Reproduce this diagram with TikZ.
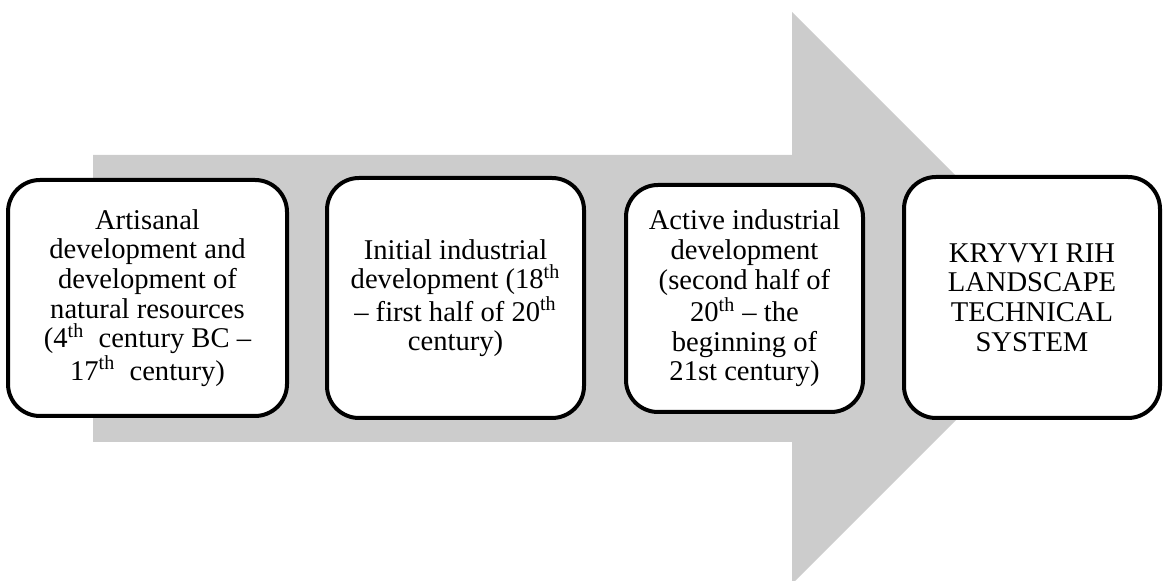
\documentclass[tikz,border=0pt]{standalone}
\usepackage{fontspec}
\setmainfont{Liberation Serif}
\begin{document}
\begin{tikzpicture}[x=0.5pt, y=-0.5pt, line join=round, font=\fontsize{14.3}{14.8}\selectfont]
	\tikzset{stagebox/.style={draw, line width=2pt, fill=white, rounded corners=16pt, align=center, inner sep=2pt}}
	\useasboundingbox (0,0) rectangle (1163,581);
	%Big arrow
	\fill [gray!40] (93,155)--(792,155)--(792,12)--(1078,298)--(792,584)--(792,442)--(93,442)--cycle;
	%Stages
	\node[stagebox, minimum width=139.5pt, minimum height=118pt] (artisanal) at (147.5,298) {Artisanal\\ development and\\ development of\\ natural resources\\ (4\textsuperscript{th}\ \ century BC --\\ 17\textsuperscript{th}\ \ century)};
	\node[stagebox, minimum width=128.5pt, minimum height=120pt] (initial) at (455.5,298) {Initial industrial\\ development (18\textsuperscript{th}\\ -- first half of 20\textsuperscript{th}\\ century)};
	\node[stagebox, minimum width=118.5pt, minimum height=113.5pt] (active) at (744.5,298.5) {Active industrial\\ development\\ (second half of\\ 20\textsuperscript{th} -- the\\ beginning of\\ 21st century)};
	%Result
	\node[stagebox, minimum width=128pt, minimum height=120.5pt] (system) at (1032,297.5) {KRYVYI RIH\\ LANDSCAPE\\ TECHNICAL\\ SYSTEM};
\end{tikzpicture}
\end{document}
